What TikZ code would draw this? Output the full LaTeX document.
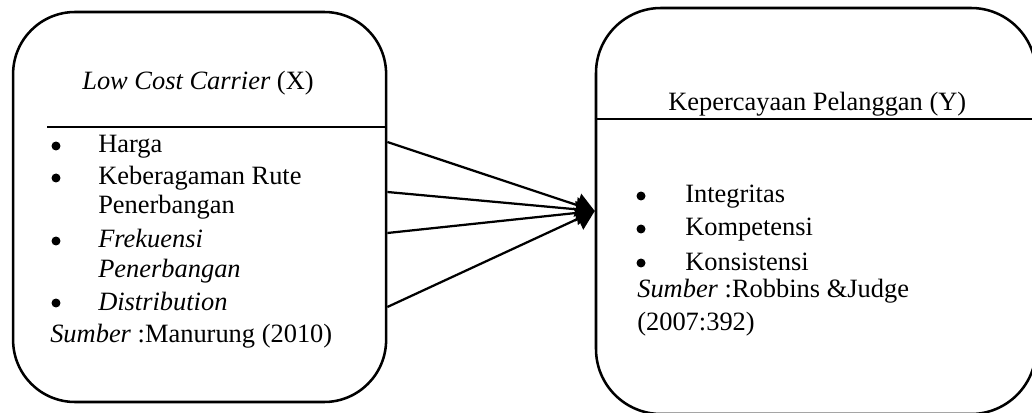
\documentclass[tikz,border=0pt]{standalone}
\usepackage{fontspec}
\setmainfont{Liberation Serif}
\usetikzlibrary{arrows.meta}

\tikzset{
  varbox/.style={draw, line width=1.8pt, minimum width=#1, inner sep=0pt},
  txt/.style={anchor=base west, inner sep=0pt, font=\fontsize{18.8}{22}\selectfont},
  head/.style={anchor=base, inner sep=0pt, font=\fontsize{18.8}{22}\selectfont},
  dot/.style={circle, fill, inner sep=0pt, minimum size=6.4pt},
  link/.style={line width=1.6pt, -{Triangle[length=13pt, width=17pt]}}
}

\begin{document}
\begin{tikzpicture}
\useasboundingbox (0,0) rectangle (25.8,10.3);
\node[varbox=9.325cm, minimum height=9.75cm, rounded corners=1.55cm] (lcc) at (4.99,5.125) {};
\node[varbox=11cm, minimum height=10.15cm, rounded corners=1.625cm] (kp) at (20.4,5.025) {};
\draw [line width=1.6pt] (1.175,7.125) -- (lcc.east |- 0,7.125);
\draw [line width=1.6pt] (kp.west |- 0,7.325) -- (kp.east |- 0,7.325);
\node[head] (lcctitle) at (4.95,8.05) {\textit{Low Cost Carrier} (X)};
\node[dot] (b1) at (1.4,6.65) {};
\node[txt] (x1) at (2.45,6.475) {Harga};
\node[dot] (b2) at (1.4,5.85) {};
\node[txt] (x2) at (2.45,5.675) {Keberagaman Rute};
\node[txt] (x2b) at (2.45,4.95) {Penerbangan};
\node[dot] (b3) at (1.4,4.275) {};
\node[txt] (x3) at (2.45,4.1) {\textit{Frekuensi}};
\node[txt] (x3b) at (2.45,3.375) {\textit{Penerbangan}};
\node[dot] (b4) at (1.4,2.725) {};
\node[txt] (x4) at (2.45,2.55) {\textit{Distribution}};
\node[txt] (xsrc) at (1.25,1.75) {\textit{Sumber} :Manurung (2010)};
\node[txt] (kptitle) at (16.7,7.525) {Kepercayaan Pelanggan (Y)};
\node[dot] (c1) at (16.025,5.4) {};
\node[txt] (y1) at (17.125,5.225) {Integritas};
\node[dot] (c2) at (16.025,4.575) {};
\node[txt] (y2) at (17.125,4.4) {Kompetensi};
\node[dot] (c3) at (16.025,3.725) {};
\node[txt] (y3) at (17.125,3.55) {Konsistensi};
\node[txt] (ysrc) at (15.925,2.85) {\textit{Sumber} :Robbins \&Judge};
\node[txt] (ysrcb) at (15.925,2.05) {(2007:392)};
\draw [link] ([yshift=1.625cm]lcc.east) -- (kp.west);
\draw [link] ([yshift=0.375cm]lcc.east) -- (kp.west);
\draw [link] ([yshift=-0.65cm]lcc.east) -- (kp.west);
\draw [link] ([yshift=-2.5cm]lcc.east) -- (kp.west);
\end{tikzpicture}
\end{document}
